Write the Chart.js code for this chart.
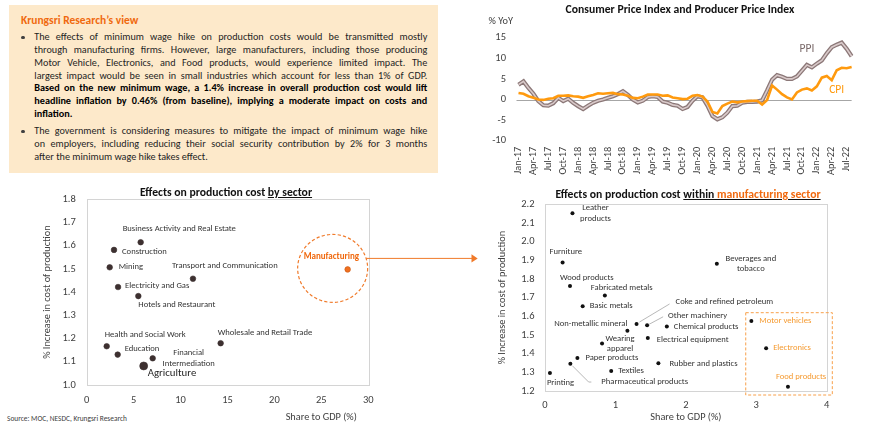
<!DOCTYPE html>
<html><head><meta charset="utf-8">
<script src="https://cdn.jsdelivr.net/npm/chart.js@4.4.1/dist/chart.umd.min.js"></script>
<style>
html,body{margin:0;padding:0;background:#fff;width:870px;height:437px;overflow:hidden;font-family:Carlito,Lato,'Open Sans',sans-serif;}
.abs{position:absolute;}
#box{left:9px;top:5px;width:429px;height:168px;background:#fde9ca;}
#boxTitle{left:12px;top:8px;font-weight:bold;color:#f0690f;font-size:11.5px;line-height:14px;white-space:nowrap;}
.txt{left:25.3px;width:393px;font-size:10.2px;line-height:12.8px;color:#1f1f1f;}
.ln{text-align:justify;text-align-last:justify;height:12.8px;white-space:nowrap;}
.ln.last{text-align-last:left;}
.b{font-weight:bold;color:#000;}
.dot{width:3.6px;height:3.6px;border-radius:50%;background:#404040;left:12px;}
.ttl{font-weight:bold;font-size:11.7px;color:#111;white-space:nowrap;transform:translate(-50%,-50%);line-height:14px;z-index:3;}
.org{color:#f0690f;}
#src{left:7px;top:413.5px;font-size:7.4px;color:#404040;white-space:nowrap;}
canvas{position:absolute;z-index:1;}
</style></head>
<body>
<div id="box" class="abs">
  <div id="boxTitle" class="abs">Krungsri Research’s view</div>
  <div class="abs dot" style="top:30.9px"></div>
  <div class="abs txt" style="top:26.3px">
    <div class="ln">The effects of minimum wage hike on production costs would be transmitted mostly</div>
    <div class="ln">through manufacturing firms. However, large manufacturers, including those producing</div>
    <div class="ln">Motor Vehicle, Electronics, and Food products, would experience limited impact. The</div>
    <div class="ln">largest impact would be seen in small industries which account for less than 1% of GDP.</div>
    <div class="ln b">Based on the new minimum wage, a 1.4% increase in overall production cost would lift</div>
    <div class="ln b">headline inflation by 0.46% (from baseline), implying a moderate impact on costs and</div>
    <div class="ln last b">inflation.</div>
  </div>
  <div class="abs dot" style="top:124.9px"></div>
  <div class="abs txt" style="top:120.3px">
    <div class="ln">The government is considering measures to mitigate the impact of minimum wage hike</div>
    <div class="ln">on employers, including reducing their social security contribution by 2% for 3 months</div>
    <div class="ln last">after the minimum wage hike takes effect.</div>
  </div>
</div>
<canvas id="c1" width="430" height="180" style="left:440px;top:0px"></canvas>
<canvas id="c2" width="440" height="257" style="left:0px;top:180px"></canvas>
<canvas id="c3" width="430" height="257" style="left:440px;top:180px"></canvas>
<div class="abs ttl" style="left:680px;top:8.5px">Consumer Price Index and Producer Price Index</div>
<div class="abs ttl" style="left:226px;top:192.3px">Effects on production cost <u>by sector</u></div>
<div class="abs ttl" style="left:688px;top:194px">Effects on production cost <u>within <span class="org">manufacturing sector</span></u></div>
<div id="src" class="abs">Source: MOC, NESDC, Krungsri Research</div>
<script>
// ---------- DATA ----------
const months = ['Jan-17','Feb-17','Mar-17','Apr-17','May-17','Jun-17','Jul-17','Aug-17','Sep-17','Oct-17','Nov-17','Dec-17',
'Jan-18','Feb-18','Mar-18','Apr-18','May-18','Jun-18','Jul-18','Aug-18','Sep-18','Oct-18','Nov-18','Dec-18',
'Jan-19','Feb-19','Mar-19','Apr-19','May-19','Jun-19','Jul-19','Aug-19','Sep-19','Oct-19','Nov-19','Dec-19',
'Jan-20','Feb-20','Mar-20','Apr-20','May-20','Jun-20','Jul-20','Aug-20','Sep-20','Oct-20','Nov-20','Dec-20',
'Jan-21','Feb-21','Mar-21','Apr-21','May-21','Jun-21','Jul-21','Aug-21','Sep-21','Oct-21','Nov-21','Dec-21',
'Jan-22','Feb-22','Mar-22','Apr-22','May-22','Jun-22','Jul-22','Aug-22'];
const ppi = [3.6,4.4,2.8,1.4,-0.4,-1.4,-1.5,-0.9,0.4,-0.4,0.2,-0.8,
-1.6,-2.3,-1.5,-0.8,-0.3,0.0,0.4,0.8,1.3,2.0,1.1,0.0,
-0.7,-0.3,0.6,0.8,0.6,-0.5,-0.8,-1.3,-1.5,-2.3,-1.8,-0.3,
0.8,0.5,-1.5,-4.0,-4.8,-4.3,-3.2,-1.6,-1.5,-0.8,-0.6,-0.6,
-0.5,-0.2,2.2,4.8,5.9,5.5,5.0,5.0,5.6,7.0,8.4,7.8,
8.7,9.5,11.2,12.7,13.3,13.8,12.3,10.5];
const cpi = [1.6,1.4,0.8,0.4,0.0,-0.1,0.2,0.3,0.9,0.9,1.0,0.8,
0.7,0.4,0.8,1.1,1.5,1.4,1.5,1.6,1.3,1.2,0.9,0.4,
0.3,0.7,1.2,1.2,1.2,0.9,1.0,0.5,0.3,0.1,0.2,0.9,
1.1,0.7,-0.5,-3.0,-3.4,-1.6,-1.0,-0.5,-0.7,-0.5,-0.4,-0.3,
-0.3,-1.2,-0.1,3.4,2.4,1.3,0.5,0.0,1.7,2.4,2.7,2.2,
3.2,5.3,5.7,4.7,7.1,7.7,7.6,7.9];
const cpiYTicks = [-10,-5,0,5,10,15];

const sectors = ['Business Activity and Real Estate','Construction','Mining','Electricity and Gas','Hotels and Restaurant',
'Transport and Communication','Manufacturing','Wholesale and Retail Trade','Health and Social Work','Education',
'Financial\nIntermediation','Agriculture'];
const sectorGdpShare = [5.75,2.91,2.45,3.34,5.5,11.32,27.8,14.27,2.13,3.3,7.03,6.07];
const sectorCostIncrease = [1.615,1.582,1.507,1.422,1.383,1.458,1.498,1.18,1.167,1.131,1.115,1.082];

const industries = ['Leather\nproducts','Furniture','Beverages and\ntobacco','Wood products','Fabricated metals','Basic metals',
'Coke and refined petroleum','Other machinery','Non-metallic mineral','Chemical products','Motor vehicles',
'Electrical equipment','Wearing\napparel','Electronics','Paper products','Pharmaceutical products',
'Rubber and plastics','Textiles','Printing','Food products'];
const industryGdpShare = [0.39,0.25,2.44,0.355,0.85,0.535,1.3,1.45,1.17,1.73,2.93,1.46,0.81,3.14,0.46,0.36,1.61,0.94,0.07,3.45];
const industryCostIncrease = [2.152,1.888,1.882,1.762,1.712,1.654,1.559,1.552,1.523,1.545,1.575,1.484,1.454,1.429,1.377,1.346,1.348,1.307,1.296,1.223];
const largeIndustries = ['Motor vehicles','Electronics','Food products'];

// ---------- STYLE / LAYOUT ----------
const FF = 'Carlito, Lato, "Open Sans", sans-serif';
const f = (s,w)=>({family:FF,size:s,weight:w||'normal'});
const fstr = (s,w)=>(w||'normal')+' '+s+'px '+FF;
const TICK = '#404040';
const ORANGE = '#f0690f';
const LORANGE = '#f59a30';
const NOGRID = {display:false, drawTicks:false};

// label placement: [dx, dy, align, leader points]
const sectorPlace = [[-18,-13,'left'],[8,2,'left'],[9,0,'left'],[7,-1,'left'],[0,9,'left'],[-21,-13,'left'],
[-44,-13,'left'],[-3,-10,'left'],[-2,-11,'left'],[7,-6,'left'],[36,0,'center'],[4,7,'left']];
const industryPlace = [[23,0,'center'],[-13,-11,'left'],[34,0,'center'],[-10,-8,'left'],[-14,-8,'left'],[7,0,'left'],
[39,-22,'left',[[3,-2],[33,-20]]],[21,-9,'left',[[2,-1],[16,-8.5]]],[0,-7,'right'],[7,0,'left'],[8,0,'left'],
[9,2,'left'],[18,0,'center'],[7,0,'left'],[8,0,'left'],[31,18,'left',[[2,2],[18.3,18.3],[21,18.3]]],
[11,0,'left'],[7,0,'left'],[-3,10,'left'],[-12,-10,'left']];

Chart.defaults.font.family = FF;
Chart.defaults.color = TICK;

let arrowY = null;

function drawPointLabels(chart, names, place, styleOf){
  const ctx = chart.ctx, meta = chart.getDatasetMeta(0);
  names.forEach((name,i)=>{
    const p = meta.data[i], pl = place[i], st = styleOf(i);
    ctx.save();
    if (pl[3]) {
      ctx.strokeStyle = '#a6a6a6'; ctx.lineWidth = 0.8; ctx.beginPath();
      pl[3].forEach((q,k)=>{ const X=p.x+q[0], Y=p.y+q[1]; k?ctx.lineTo(X,Y):ctx.moveTo(X,Y); });
      ctx.stroke();
    }
    ctx.font = st.font; ctx.fillStyle = st.color; ctx.textAlign = pl[2]; ctx.textBaseline = 'middle';
    const lines = name.split('\n');
    lines.forEach((ln,k)=>ctx.fillText(ln, p.x+pl[0], p.y+pl[1]+(k-(lines.length-1)/2)*st.lh));
    ctx.restore();
  });
}
const boxPlugin = {id:'box', beforeDatasetsDraw(chart){
  const a = chart.chartArea, ctx = chart.ctx;
  ctx.save(); ctx.strokeStyle = '#d4d4d4'; ctx.lineWidth = 1;
  ctx.strokeRect(Math.round(a.left)+0.5, Math.round(a.top)+0.5, Math.round(a.right-a.left), Math.round(a.bottom-a.top));
  ctx.restore();
}};

// ---------- CHART 1: CPI & PPI ----------
new Chart(document.getElementById('c1'), {
  type:'line',
  data:{labels:months, datasets:[
    {label:'CPI', data:cpi, borderColor:'#ff9a0e', borderWidth:2.6, pointRadius:0, order:0},
    {label:'PPI', data:ppi, borderColor:'#d9caca', borderWidth:1.6, pointRadius:0, order:1},
    {label:'PPI', data:ppi, borderColor:'#8c7878', borderWidth:4.2, pointRadius:0, order:2}
  ]},
  options:{
    responsive:false, animation:false,
    layout:{padding:{left:0,right:8.5,top:37.7,bottom:0}},
    plugins:{legend:{display:false}, tooltip:{enabled:false}},
    scales:{
      x:{grid:NOGRID, border:{display:false},
         ticks:{autoSkip:false, minRotation:90, maxRotation:90, padding:6, font:f(10.3), color:TICK,
           callback:(v,i)=> i%3===0 ? months[i] : ''},
         afterFit:s=>{s.height=39.3;}},
      y:{min:-10, max:15, grid:NOGRID, border:{display:false},
         afterBuildTicks:s=>{s.ticks = cpiYTicks.map(v=>({value:v}));},
         ticks:{padding:12.5, font:f(10.5), color:TICK},
         afterFit:s=>{s.width=78.5;}}
    }
  },
  plugins:[{id:'zero', beforeDatasetsDraw(chart){
      const {ctx, chartArea:a, scales:{y}} = chart; const yy = Math.round(y.getPixelForValue(0))+0.5;
      ctx.save(); ctx.strokeStyle='#a6a6a6'; ctx.lineWidth=1; ctx.beginPath(); ctx.moveTo(a.left-2,yy); ctx.lineTo(a.right,yy); ctx.stroke(); ctx.restore();
    }, afterDraw(chart){
      const {ctx, chartArea:a, scales:{x,y}} = chart;
      ctx.save(); ctx.textAlign='center'; ctx.textBaseline='middle';
      ctx.font = fstr(11.5); ctx.fillStyle='#7a6a6a'; ctx.fillText('PPI', x.getPixelForValue(58), y.getPixelForValue(12.3));
      ctx.fillStyle='#ff9a0e'; ctx.fillText('CPI', x.getPixelForValue(64), y.getPixelForValue(2.3));
      ctx.fillStyle=TICK; ctx.font=fstr(10.3); ctx.textAlign='right'; ctx.fillText('% YoY', a.left-5.5, 21.7);
      ctx.restore();
    }}]
});

// ---------- CHART 2: by sector ----------
new Chart(document.getElementById('c2'), {
  type:'scatter',
  data:{datasets:[{label:'Sectors', data:sectorGdpShare.map((x,i)=>({x, y:sectorCostIncrease[i]})),
    pointRadius:c=> sectors[c.dataIndex]==='Agriculture' ? 4 : 2.8,
    pointBackgroundColor:c=> sectors[c.dataIndex]==='Manufacturing' ? '#f07020' : '#3d3030',
    pointBorderColor:c=> sectors[c.dataIndex]==='Manufacturing' ? '#c85a18' : '#3d3030',
    pointBorderWidth:0.6}]},
  options:{
    responsive:false, animation:false,
    layout:{padding:{left:0,right:71.7,top:19.3,bottom:0}},
    plugins:{legend:{display:false}, tooltip:{enabled:false}},
    scales:{
      x:{min:0,max:30, grid:NOGRID, border:{display:false},
         ticks:{stepSize:5, padding:9.5, font:f(10.5), color:TICK}, afterFit:s=>{s.height=52;}},
      y:{min:1.0,max:1.8, grid:NOGRID, border:{display:false},
         ticks:{stepSize:0.1, padding:11, font:f(10.5), color:TICK, callback:v=>v.toFixed(1)},
         title:{display:true, text:'% Increase in cost of production', font:f(10.3), color:TICK, padding:{top:41.5,bottom:0}},
         afterFit:s=>{s.width=86.7;}}
    }
  },
  plugins:[boxPlugin, {id:'lbl2', afterDatasetsDraw(chart){
      drawPointLabels(chart, sectors, sectorPlace, i=>{
        const n = sectors[i];
        if (n==='Manufacturing') return {font:fstr(9,'bold'), color:ORANGE, lh:10.3};
        if (n==='Agriculture') return {font:fstr(10.8), color:'#262626', lh:12};
        return {font:fstr(8.6), color:'#333', lh:10.3};
      });
      const ctx = chart.ctx, a = chart.chartArea;
      const p = chart.getDatasetMeta(0).data[sectors.indexOf('Manufacturing')];
      const cx = p.x-15, cy = p.y-1, rx = 35, ry = 34;
      ctx.save(); ctx.strokeStyle = '#f07a2a'; ctx.lineWidth = 1.2; ctx.setLineDash([3.2,2.2]);
      ctx.beginPath(); ctx.ellipse(cx, cy, rx, ry, 0, 0, Math.PI*2); ctx.stroke();
      ctx.setLineDash([]);
      const ay = cy-10; arrowY = ay;
      const ax = cx + rx*Math.sqrt(1-Math.pow(10/ry,2));
      ctx.lineWidth = 1; ctx.beginPath(); ctx.moveTo(ax, ay); ctx.lineTo(chart.width, ay); ctx.stroke();
      ctx.fillStyle = '#404040'; ctx.font = fstr(10.3); ctx.textAlign='right'; ctx.textBaseline='middle';
      ctx.fillText('Share to GDP (%)', a.right-11.5, 237.7);
      ctx.restore();
    }}]
});

// ---------- CHART 3: within manufacturing ----------
new Chart(document.getElementById('c3'), {
  type:'scatter',
  data:{datasets:[{label:'Manufacturing industries', data:industryGdpShare.map((x,i)=>({x, y:industryCostIncrease[i]})),
    pointRadius:2, pointBackgroundColor:'#111', pointBorderColor:'#111', pointBorderWidth:0}]},
  options:{
    responsive:false, animation:false,
    layout:{padding:{left:0,right:43.3,top:24.3,bottom:0}},
    plugins:{legend:{display:false}, tooltip:{enabled:false}},
    scales:{
      x:{min:0,max:4, grid:NOGRID, border:{display:false},
         ticks:{stepSize:1, padding:8.5, font:f(10.5), color:TICK},
         title:{display:true, text:'Share to GDP (%)', font:f(10.3), color:TICK, padding:{top:0,bottom:13.5}},
         afterFit:s=>{s.height=46;}},
      y:{min:1.2,max:2.2, grid:NOGRID, border:{display:false},
         ticks:{stepSize:0.1, padding:10.5, font:f(10.5), color:TICK, callback:v=>v.toFixed(1)},
         title:{display:true, text:'% Increase in cost of production', font:f(10.3), color:TICK, padding:{top:56,bottom:0}},
         afterFit:s=>{s.width=105;}}
    }
  },
  plugins:[boxPlugin, {id:'lbl3', afterDatasetsDraw(chart){
      drawPointLabels(chart, industries, industryPlace, i=>
        largeIndustries.includes(industries[i]) ? {font:fstr(8.6), color:LORANGE, lh:10.3} : {font:fstr(8.6), color:'#333', lh:10.3});
      const ctx = chart.ctx, a = chart.chartArea, meta = chart.getDatasetMeta(0);
      const pts = largeIndustries.map(n=>meta.data[industries.indexOf(n)]);
      const l = Math.min(...pts.map(p=>p.x))-5.6, t = Math.min(...pts.map(p=>p.y))-8.3;
      ctx.save(); ctx.strokeStyle='#f8a04a'; ctx.lineWidth=1; ctx.setLineDash([3,2]);
      ctx.strokeRect(l, t, a.right+5.6-l, a.bottom+4-t);
      ctx.setLineDash([]);
      if (arrowY!==null){
        ctx.strokeStyle='#f07a2a'; ctx.fillStyle='#f07a2a';
        ctx.beginPath(); ctx.moveTo(0,arrowY); ctx.lineTo(32,arrowY); ctx.stroke();
        ctx.beginPath(); ctx.moveTo(31.5,arrowY-4.2); ctx.lineTo(37.7,arrowY); ctx.lineTo(31.5,arrowY+4.2); ctx.closePath(); ctx.fill();
      }
      ctx.restore();
    }}]
});
</script>
</body></html>
